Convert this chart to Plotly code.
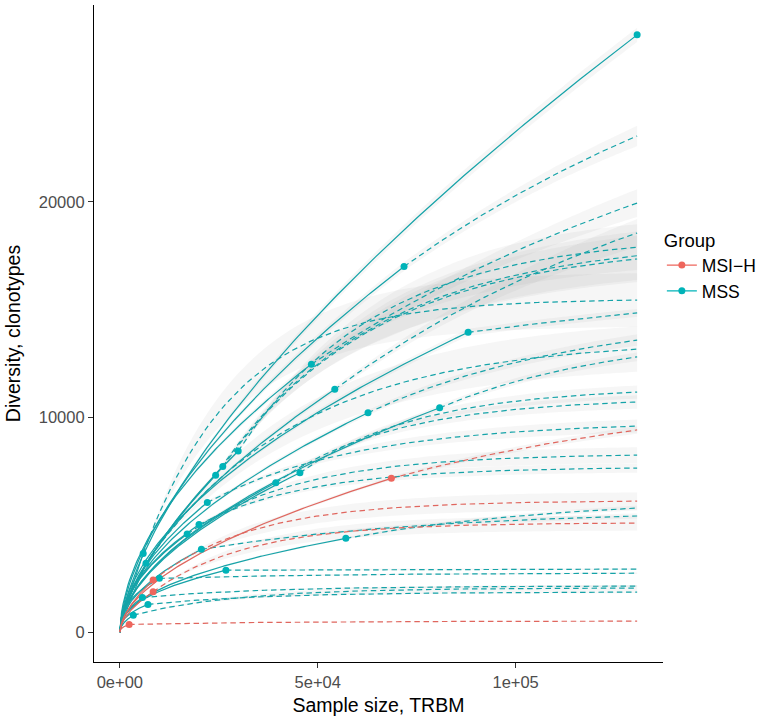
import numpy as np
import plotly.graph_objects as go

# ---- data (sample size in reads, diversity in clonotypes) ----
sample_names = ["A", "B", "C", "D", "E", "F", "G", "H", "I", "X1", "J", "K", "L", "M",
                "X2", "P", "N", "R", "Q", "S", "T", "U", "X4", "O",
                "r1", "r2", "r3", "r4"]
groups = ["MSS"] * 24 + ["MSI-H"] * 4
sample_size = [130700, 71800, 48400, 54300, 62700, 88000, 80800, 29900, 24200, 26000,
               39400, 45500, 22100, 17000, 20000, 6600, 20600, 57100, 26800, 5700,
               7100, 3400, 10000, 5900,
               68600, 8400, 8400, 2350]
observed = [27770, 17000, 12460, 11290, 10200, 13940, 10430, 8420, 7300, 7700,
            6950, 7410, 6030, 4560, 5000, 3200, 3850, 4360, 2880, 1610,
            1290, 790, 2500, 3660,
            7150, 2420, 1880, 360]
# rarefied diversity at half of the sample size
half_diversity = [17580, 11220, 8510, 7450, 6970, 9520, 7120, 5360, 4650, 4900,
                  4750, 5060, 4120, 3220, 3540, 1780, 2720, 3190, 2150, 1180,
                  980, 560, 1900, 2030,
                  4880, 1600, 1280, 270]
# extrapolated diversity at the largest sample size
extrap_end = [27770, 23070, 19950, 18560, 13580, 14840, 12800, 17900, 17500, 17350,
              10700, 11160, 9580, 8230, 7630, 13160, 5400, 5770, 2930, 2140,
              1860, 2050, 2740, 15440,
              9400, 6090, 5070, 510]
# estimated asymptotic richness
asymptote = [27770, 32000, 28000, 25000, 15000, 17000, 14000, 18500, 18300, 18100,
             10900, 11400, 9800, 8300, 7680, 13600, 5700, 6300, 2940, 2150,
             1870, 2060, 2760, 15500,
             11500, 6120, 5090, 515]

colors_line = {"MSS": "#15A3A8", "MSI-H": "#E0665E"}
colors_pt = {"MSS": "#00B3B8", "MSI-H": "#EE665D"}
legend_names = {"MSS": "MSS", "MSI-H": "MSI\u2212H"}

X_MAX = max(sample_size)

fig = go.Figure()
ribbons, lines, points = [], [], []

for name, g, N, D, Dh, E, S in zip(sample_names, groups, sample_size, observed,
                                   half_diversity, extrap_end, asymptote):
    a = np.log(D / Dh) / np.log(2.0)
    ni = np.linspace(0, N, 120)
    yi = D * (ni / N) ** a
    hwi = 0.012 * yi
    if N < X_MAX:
        r = (E - D) / (S - D)
        tau = -(X_MAX - N) / np.log(1 - r)
        ne = np.linspace(N, X_MAX, 90)
        ye = D + (S - D) * (1 - np.exp(-(ne - N) / tau))
        gain = ye - D
        hwe = 0.012 * ye + 0.09 * gain * np.minimum(1, gain / D)
    else:
        ne = np.array([]); ye = np.array([]); hwe = np.array([])
    nall = np.concatenate([ni, ne])
    yall = np.concatenate([yi, ye])
    hw = np.concatenate([hwi, hwe])
    ribbons.append(go.Scatter(x=np.concatenate([nall, nall[::-1]]),
                              y=np.concatenate([yall + hw, (yall - hw)[::-1]]),
                              fill="toself", mode="none",
                              fillcolor="rgba(140,140,140,0.08)",
                              hoverinfo="skip", showlegend=False))
    lines.append(go.Scatter(x=ni, y=yi, mode="lines",
                            line=dict(color=colors_line[g], width=1.2),
                            showlegend=False, hoverinfo="skip"))
    if len(ne):
        lines.append(go.Scatter(x=ne, y=ye, mode="lines",
                                line=dict(color=colors_line[g], width=1.2, dash="5.5px,3.7px"),
                                showlegend=False, hoverinfo="skip"))
    points.append(go.Scatter(x=[N], y=[D], mode="markers",
                             marker=dict(color=colors_pt[g], size=7),
                             showlegend=False, hoverinfo="skip"))

for t in ribbons + lines + points:
    fig.add_trace(t)

for g in ["MSI-H", "MSS"]:
    fig.add_trace(go.Scatter(x=[None], y=[None], mode="lines+markers", name=legend_names[g],
                             line=dict(color=colors_pt[g], width=1.3),
                             marker=dict(color=colors_pt[g], size=7)))

ymax = max(observed)
fig.update_layout(
    width=759, height=719,
    margin=dict(l=94, r=96, t=5, b=57, autoexpand=False),
    paper_bgcolor="white", plot_bgcolor="white",
    font=dict(family="Liberation Sans, Arial, sans-serif", size=16.5, color="#4D4D4D"),
    showlegend=True,
    legend=dict(title=dict(text="Group", font=dict(size=18.5, color="black")),
                font=dict(size=17.5, color="black"),
                x=0.998, xanchor="left", y=0.668, yanchor="top",
                bgcolor="rgba(0,0,0,0)", itemwidth=30),
    xaxis=dict(range=[-0.05 * X_MAX, 1.05 * X_MAX], automargin=False,
               tickvals=[0, 50000, 100000], ticktext=["0e+00", "5e+04", "1e+05"],
               showline=True, linecolor="black", linewidth=1.1,
               ticks="outside", ticklen=5, tickcolor="#333333", tickwidth=1.1,
               showgrid=False, zeroline=False,
               title=dict(text="Sample size, TRBM", font=dict(size=19.5, color="black"), standoff=8)),
    yaxis=dict(range=[-0.05 * ymax, 1.05 * ymax], automargin=False,
               tickvals=[0, 10000, 20000], ticktext=["0", "10000", "20000"],
               showline=True, linecolor="black", linewidth=1.1,
               ticks="outside", ticklen=5, tickcolor="#333333", tickwidth=1.1,
               showgrid=False, zeroline=False,
               title=dict(text="Diversity, clonotypes", font=dict(size=19.5, color="black"), standoff=12)),
)

fig.write_html("out.html", config={"displayModeBar": False},
               post_script="document.body.style.margin='0px';")
